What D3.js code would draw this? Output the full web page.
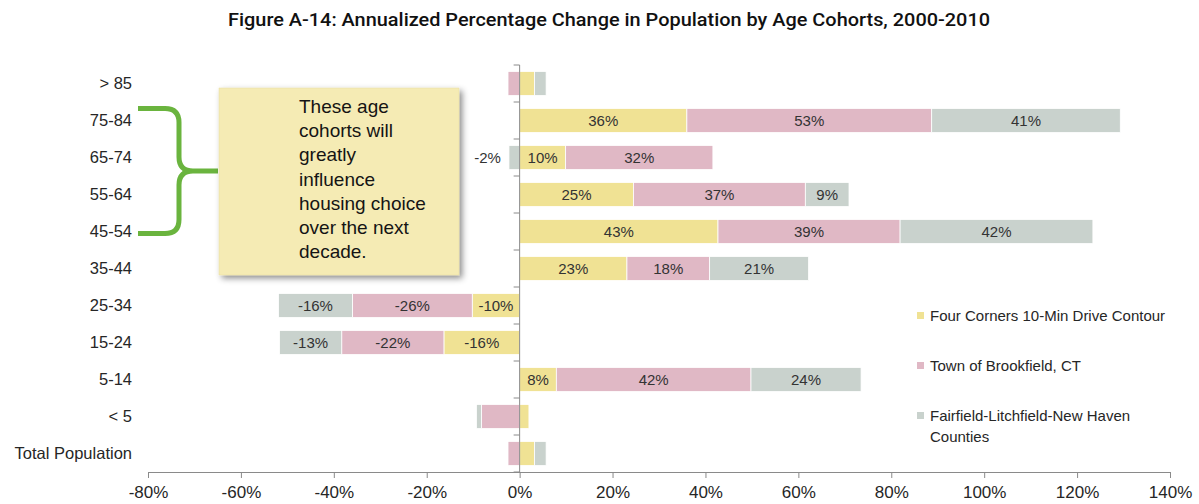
<!DOCTYPE html>
<html>
<head>
<meta charset="utf-8">
<script src="https://cdn.jsdelivr.net/npm/d3@7"></script>
<style>
  body { margin: 0; background: #fff; }
  svg { display: block; font-family: "Liberation Sans", Arial, sans-serif; }
</style>
</head>
<body>
<script>
// categories top to bottom
var cohorts = ["> 85", "75-84", "65-74", "55-64", "45-54", "35-44", "25-34", "15-24", "5-14", "< 5", "Total Population"];
// annualized % change
var fourCorners = [3.2, 36, 9.9, 24.5, 42.7, 23.1, -10.2, -16.3, 7.9, 2, 3.2];
var brookfield = [-2.5, 52.7, 31.7, 37, 39.2, 17.8, -25.8, -22, 41.9, -8.2, -2.5];
var counties = [2.5, 40.6, -2.3, 9.4, 41.5, 21.3, -15.9, -13.4, 23.7, -1.1, 2.5];
var seriesKeys = ["fourCorners", "brookfield", "counties"];
var seriesNames = [["Four Corners 10-Min Drive Contour"], ["Town of Brookfield, CT"], ["Fairfield-Litchfield-New Haven", "Counties"]];
var seriesColors = ["#f0e294", "#e0b8c5", "#c9d2cd"];
var xTicks = [-80, -60, -40, -20, 0, 20, 40, 60, 80, 100, 120, 140];
// labels that the original leaves off, and the one it puts outside the bar
var hiddenLabels = ["> 85", "< 5", "Total Population"];
var outsideLabels = [{ cohort: "65-74", key: "counties" }];
var calloutLines = ["These age", "cohorts will", "greatly", "influence", "housing choice", "over the next", "decade."];

var W = 1199, H = 504;

var rows = cohorts.map(function (c, i) {
    return { cohort: c, fourCorners: fourCorners[i], brookfield: brookfield[i], counties: counties[i] };
});

var svg = d3.select("body").append("svg")
    .attr("width", W)
    .attr("height", H);

var defs = svg.append("defs");
var shadow = defs.append("filter").attr("id", "shadow")
    .attr("x", "-10%").attr("y", "-10%").attr("width", "130%").attr("height", "130%");
shadow.append("feDropShadow")
    .attr("dx", 3).attr("dy", 3).attr("stdDeviation", 3)
    .attr("flood-color", "#000").attr("flood-opacity", 0.45);

//scales
var x = d3.scaleLinear()
    .domain([-80, 140])
    .range([148, 1170]);
var y = d3.scaleBand()
    .domain(cohorts)
    .range([65, 472])
    .paddingInner(0.35)
    .paddingOuter(0.175);

// title
svg.append("text")
    .attr("x", 609)
    .attr("y", 26)
    .attr("text-anchor", "middle")
    .attr("textLength", 762)
    .attr("lengthAdjust", "spacingAndGlyphs")
    .style("font-family", "Roboto, 'Liberation Sans', sans-serif")
    .style("font-size", "19px")
    .style("font-weight", 500)
    .style("fill", "#111")
    .text("Figure A-14: Annualized Percentage Change in Population by Age Cohorts, 2000-2010");

var stack = d3.stack()
    .keys(seriesKeys)
    .offset(d3.stackOffsetDiverging);
var series = stack(rows);

var bars = svg.append("g");
series.forEach(function (s, si) {
    bars.append("g")
        .attr("fill", seriesColors[si])
        .selectAll("rect")
        .data(s)
        .enter().append("rect")
        .attr("x", function (d) { return x(Math.min(d[0], d[1])); })
        .attr("y", function (d) { return y(d.data.cohort); })
        .attr("width", function (d) { return Math.abs(x(d[1]) - x(d[0])); })
        .attr("height", y.bandwidth())
        .attr("stroke", "#fff")
        .attr("stroke-width", 0.8);
});

// data labels
var labels = svg.append("g")
    .style("font-size", "15px")
    .style("fill", "#333");
series.forEach(function (s) {
    s.forEach(function (d) {
        var c = d.data.cohort;
        if (hiddenLabels.indexOf(c) >= 0) return;
        var v = d.data[s.key];
        var outside = outsideLabels.some(function (o) { return o.cohort === c && o.key === s.key; });
        var t = labels.append("text")
            .attr("y", y(c) + y.bandwidth() / 2)
            .attr("dy", "0.35em")
            .text(Math.round(v) + "%");
        if (outside) {
            t.attr("x", x(Math.min(d[0], d[1])) - 8).attr("text-anchor", "end");
        } else {
            t.attr("x", (x(d[0]) + x(d[1])) / 2).attr("text-anchor", "middle");
        }
    });
});

var axisColor = "#8a8a8a";

// vertical axis at 0 with ticks between bands
var step = y.step();
var yAxis = svg.append("g").attr("stroke", axisColor).attr("stroke-width", 1);
yAxis.append("line")
    .attr("x1", x(0)).attr("x2", x(0))
    .attr("y1", y.range()[0]).attr("y2", y.range()[1]);
yAxis.selectAll(".ytick")
    .data(d3.range(cohorts.length + 1))
    .enter().append("line")
    .attr("x1", x(0) - 6).attr("x2", x(0))
    .attr("y1", function (i) { return y.range()[0] + i * step; })
    .attr("y2", function (i) { return y.range()[0] + i * step; });

// category labels
svg.append("g")
    .selectAll("text")
    .data(cohorts)
    .enter().append("text")
    .attr("x", 132)
    .attr("y", function (d) { return y(d) + y.bandwidth() / 2; })
    .attr("dy", "0.35em")
    .attr("text-anchor", "end")
    .style("font-size", "16.5px")
    .style("fill", "#262626")
    .text(function (d) { return d; });

// bottom axis
var xAxis = svg.append("g")
    .attr("transform", "translate(0," + y.range()[1] + ")")
    .call(d3.axisBottom(x).tickValues(xTicks).tickSize(6).tickSizeOuter(0)
        .tickFormat(function (d) { return d + "%"; }));
xAxis.select(".domain").attr("stroke", axisColor);
xAxis.selectAll(".tick line").attr("stroke", axisColor);
xAxis.selectAll(".tick text")
    .attr("y", 14)
    .style("font-family", "'Liberation Sans Narrow', 'Arial Narrow', 'Liberation Sans', sans-serif")
    .style("font-size", "17px")
    .style("fill", "#262626");

// legend
var legend = svg.append("g");
var legendY = [316, 366, 416];
seriesNames.forEach(function (name, i) {
    var g = legend.append("g").attr("transform", "translate(917," + legendY[i] + ")");
    g.append("rect")
        .attr("x", 0).attr("y", -4)
        .attr("width", 7).attr("height", 7)
        .attr("fill", seriesColors[i]);
    var t = g.append("text")
        .attr("x", 13)
        .attr("y", 0)
        .style("font-size", "15px")
        .style("fill", "#262626");
    name.forEach(function (line, li) {
        t.append("tspan")
            .attr("x", 13)
            .attr("dy", li === 0 ? "0.35em" : "1.4em")
            .text(line);
    });
});

// brace grouping 45-84
var bTop = y("75-84");
var bBot = y("45-54") + y.bandwidth() / 2 + 2;
var bMid = (bTop + bBot) / 2;
var bx0 = 138, bx1 = 179, bTip = 218, r = 14;
svg.append("path")
    .attr("d", "M" + bx0 + "," + bTop + " L" + (bx1 - r) + "," + bTop +
        " Q" + bx1 + "," + bTop + " " + bx1 + "," + (bTop + r) +
        " L" + bx1 + "," + (bMid - r) +
        " Q" + bx1 + "," + bMid + " " + (bx1 + r) + "," + bMid +
        " L" + bTip + "," + bMid +
        " M" + (bx1 + r) + "," + bMid +
        " Q" + bx1 + "," + bMid + " " + bx1 + "," + (bMid + r) +
        " L" + bx1 + "," + (bBot - r) +
        " Q" + bx1 + "," + bBot + " " + (bx1 - r) + "," + bBot +
        " L" + bx0 + "," + bBot)
    .attr("fill", "none")
    .attr("stroke", "#6ab43e")
    .attr("stroke-width", 5);

// callout box
var cx = 219, cy = 88, cw = 240, ch = 187;
svg.append("rect")
    .attr("x", cx).attr("y", cy)
    .attr("width", cw).attr("height", ch)
    .attr("fill", "#f5ebb4")
    .attr("stroke", "#e8dca0")
    .attr("stroke-width", 0.5)
    .attr("filter", "url(#shadow)");
svg.append("g")
    .selectAll("text")
    .data(calloutLines)
    .enter().append("text")
    .attr("x", 299)
    .attr("y", function (d, i) { return 113 + i * 24.2; })
    .style("font-size", "19px")
    .style("fill", "#141414")
    .text(function (d) { return d; });
</script>
</body>
</html>
